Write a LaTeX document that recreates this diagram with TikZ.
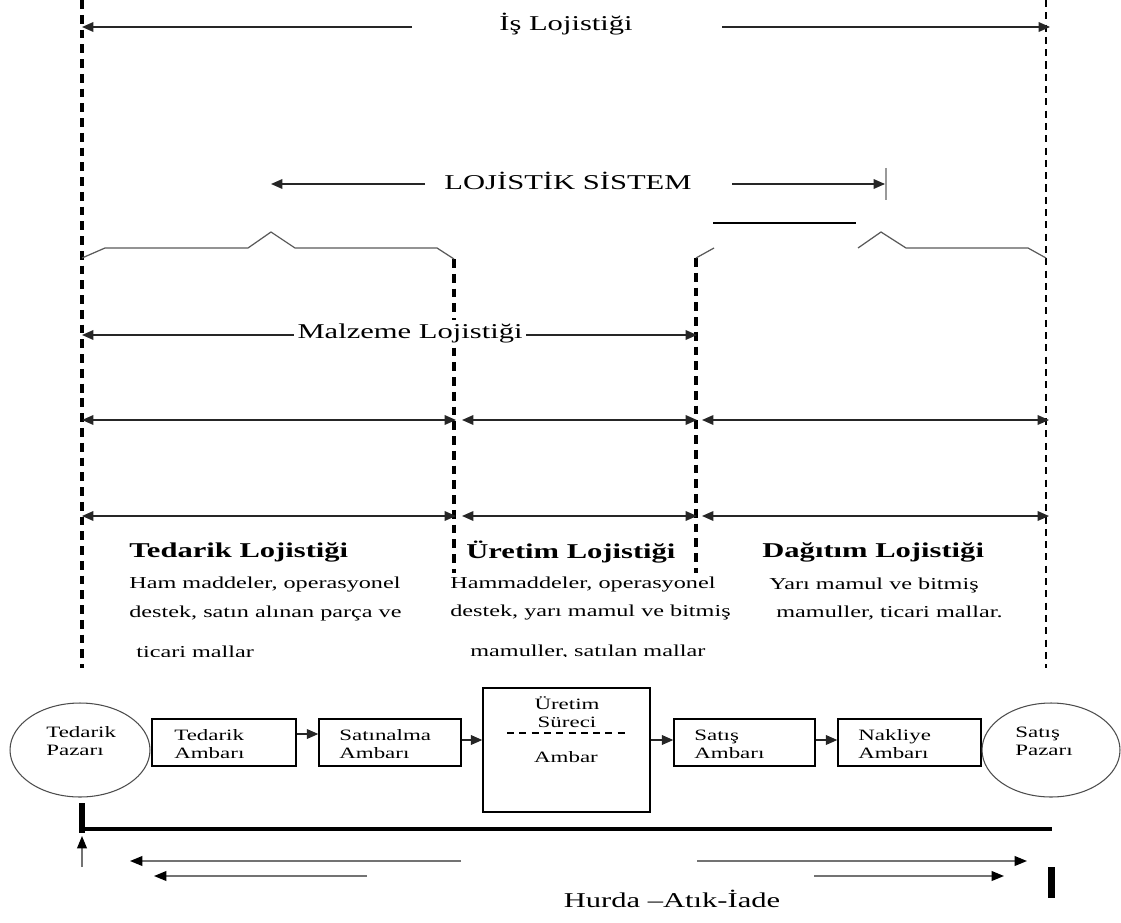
\documentclass[tikz,border=0pt]{standalone}
\usepackage{fontspec}
\setmainfont{Liberation Serif}[FakeStretch=1.45]
\usetikzlibrary{arrows.meta,shapes.geometric,calc}
\begin{document}
\begin{tikzpicture}[x=0.02cm,y=-0.02cm,
  dimarr/.style={draw=black!85,line width=0.8pt,{Triangle[length=6.5pt,width=5.5pt]}-{Triangle[length=6.5pt,width=5.5pt]}},
  onearr/.style={draw=black!85,line width=0.8pt,-{Triangle[length=6.5pt,width=5.5pt]}},
  grayarr/.style={draw=black!55,line width=0.9pt,-{Triangle[length=7pt,width=5.5pt,color=black]}},
  vdash/.style={line width=2pt,dash pattern=on 5pt off 3.4pt},
  vdashthin/.style={line width=1.3pt,dash pattern=on 4pt off 3pt},
  bracel/.style={draw=black!65,line width=0.7pt},
  bigtxt/.style={font=\fontsize{12}{14}\selectfont,inner sep=1pt},
  headtxt/.style={font=\fontsize{12}{14}\selectfont\bfseries,anchor=west,inner sep=0pt},
  bodytxt/.style={font=\fontsize{9.5}{11}\selectfont,anchor=west,inner sep=0pt},
  boxtxt/.style={font=\fontsize{9}{10.2}\selectfont,align=left,anchor=west,inner sep=0pt},
  boxnode/.style={draw,line width=0.8pt,rectangle,inner sep=0pt},
  market/.style={draw=black!70,line width=0.6pt,ellipse,inner sep=0pt,minimum height=1.88cm}
]
\useasboundingbox (0,0) rectangle (1121,922);

% ---- vertical dashed boundaries
\coordinate (Ltop) at (82,0);   \coordinate (Lbot) at (82,668);
\coordinate (Rtop) at (1046,0); \coordinate (Rbot) at (1046,668);
\coordinate (M1top) at (454,259); \coordinate (M1bot) at (454,573);
\coordinate (M2top) at (696,258); \coordinate (M2bot) at (696,573);
\draw[vdash] (Ltop) -- (Lbot);
\draw[vdashthin] (Rtop) -- (Rbot);
\draw[vdash] (M1top) -- (M1bot);
\draw[vdash] (M2top) -- (M2bot);

% ---- Is Lojistigi
\node[bigtxt] (is) at (566,24) {İş Lojistiği};
\coordinate (isLa) at (412,27); \coordinate (isLb) at (82,27);
\coordinate (isRa) at (722,27); \coordinate (isRb) at (1050,27);
\draw[onearr] (isLa) -- (isLb);
\draw[onearr] (isRa) -- (isRb);

% ---- Lojistik Sistem
\node[bigtxt] (ls) at (568,181) {LOJİSTİK SİSTEM};
\coordinate (lsLa) at (425,184); \coordinate (lsLb) at (271,184);
\coordinate (lsRa) at (732,184); \coordinate (lsRb) at (885,184);
\draw[onearr] (lsLa) -- (lsLb);
\draw[onearr] (lsRa) -- (lsRb);
\coordinate (barT) at (886,168); \coordinate (barB) at (886,200);
\draw[draw=black!40,line width=1.2pt] (barT) -- (barB);

% ---- braces
\draw[bracel] (82,258) -- (105,248) -- (248,248) -- (271,232) -- (295,248) -- (437,248) -- (454,259);
\draw[bracel] (696,258) -- (714,248);
\draw[black,line width=0.6pt] (713,223) -- (856,223);
\draw[bracel] (858,248) -- (881,232) -- (906,248) -- (1028,248) -- (1046,258);

% ---- Malzeme Lojistigi
\node[bigtxt,inner sep=2pt,fill=white] (ml) at (410,333) {Malzeme Lojistiği};
\coordinate (mlL) at (82,335); \coordinate (mlR) at (697,335);
\draw[onearr] (ml.west |- mlL) -- (mlL);
\draw[onearr] (ml.east |- mlR) -- (mlR);

% ---- dimension rows
\foreach \yy/\nm in {420/a,516/b}{
  \coordinate (\nm1) at (82,\yy);  \coordinate (\nm2) at (456,\yy);
  \coordinate (\nm3) at (462,\yy); \coordinate (\nm4) at (697,\yy);
  \coordinate (\nm5) at (702,\yy); \coordinate (\nm6) at (1049,\yy);
  \draw[dimarr] (\nm1) -- (\nm2);
  \draw[dimarr] (\nm3) -- (\nm4);
  \draw[dimarr] (\nm5) -- (\nm6);
}

% ---- headings and descriptions
\node[headtxt] (h1) at (129,552) {Tedarik Lojistiği};
\node[headtxt] (h2) at (466,552) {Üretim Lojistiği};
\node[headtxt] (h3) at (762,552) {Dağıtım Lojistiği};

\node[bodytxt] (t11) at (129,585) {Ham maddeler, operasyonel};
\node[bodytxt] (t12) at (129,613) {destek, satın alınan parça ve};
\node[bodytxt] (t21) at (450,585) {Hammaddeler, operasyonel};
\node[bodytxt] (t22) at (450,613) {destek, yarı mamul ve bitmiş};
\node[bodytxt] (t31) at (769,585) {Yarı mamul ve bitmiş};
\node[bodytxt] (t32) at (776,613) {mamuller, ticari mallar.};
\begin{scope}
  \clip (0,630) rectangle (1121,656);
  \node[bodytxt] (t13) at (136,652) {ticari mallar};
  \node[bodytxt] (t23) at (470,652) {mamuller, satılan mallar};
\end{scope}

% ---- flow chain
\node[market,minimum width=2.8cm] (tp) at (80,750) {};
\node[boxtxt] (tpt) at (46,741) {Tedarik\\Pazarı};

\node[boxnode,minimum width=2.88cm,minimum height=0.94cm] (b1) at (224,742.5) {};
\node[boxtxt] (b1t) at (174,744) {Tedarik\\Ambarı};
\node[boxnode,minimum width=2.84cm,minimum height=0.94cm] (b2) at (390,742.5) {};
\node[boxtxt] (b2t) at (339,744) {Satınalma\\Ambarı};
\node[boxnode,minimum width=3.34cm,minimum height=2.48cm] (b3) at (566.5,750) {};
\node[font=\fontsize{9}{10.2}\selectfont,inner sep=0pt,align=center] (b3t) at (567,712) {Üretim\\Süreci};
\node[font=\fontsize{9}{10.2}\selectfont,inner sep=0pt] (b3b) at (566,757) {Ambar};
\coordinate (dL) at (507,733); \coordinate (dR) at (626,733);
\draw[line width=0.6pt,dash pattern=on 4pt off 3pt] (dL) -- (dR);
\node[boxnode,minimum width=2.82cm,minimum height=0.94cm] (b4) at (744.5,742.5) {};
\node[boxtxt] (b4t) at (694,744) {Satış\\Ambarı};
\node[boxnode,minimum width=2.86cm,minimum height=0.94cm] (b5) at (909.5,742.5) {};
\node[boxtxt] (b5t) at (858,744) {Nakliye\\Ambarı};

\node[market,minimum width=2.76cm] (sp) at (1051,750) {};
\node[boxtxt] (spt) at (1015,741) {Satış\\Pazarı};

\draw[onearr] ([yshift=0.17cm]b1.east) -- ([yshift=0.17cm]b1.east -| b2.west);
\draw[onearr] ([yshift=0.05cm]b2.east) -- ([yshift=0.05cm]b2.east -| b3.west);
\draw[onearr] ([yshift=0.05cm]b4.west -| b3.east) -- ([yshift=0.05cm]b4.west);
\draw[onearr] ([yshift=0.05cm]b4.east) -- ([yshift=0.05cm]b4.east -| b5.west);

% ---- return flow
\coordinate (vbT) at (82,803); \coordinate (vbB) at (82,833);
\draw[line width=3.4pt] (vbT) -- (vbB);
\coordinate (hbL) at (80,829); \coordinate (hbR) at (1052,829);
\draw[line width=2.3pt] (hbL) -- (hbR);
\coordinate (upA) at (82,867); \coordinate (upB) at (82,836);
\draw[grayarr] (upA) -- (upB);

\coordinate (r1a) at (461,861); \coordinate (r1b) at (130,861);
\coordinate (r2a) at (367,876); \coordinate (r2b) at (154,876);
\coordinate (r3a) at (697,861); \coordinate (r3b) at (1027,861);
\coordinate (r4a) at (814,876); \coordinate (r4b) at (1004,876);
\draw[grayarr] (r1a) -- (r1b);
\draw[grayarr] (r2a) -- (r2b);
\draw[grayarr] (r3a) -- (r3b);
\draw[grayarr] (r4a) -- (r4b);

\coordinate (rbT) at (1051,867); \coordinate (rbB) at (1051,898);
\draw[line width=4pt] (rbT) -- (rbB);

\node[bigtxt] (hurda) at (672,899) {Hurda –Atık-İade};
\end{tikzpicture}
\end{document}
